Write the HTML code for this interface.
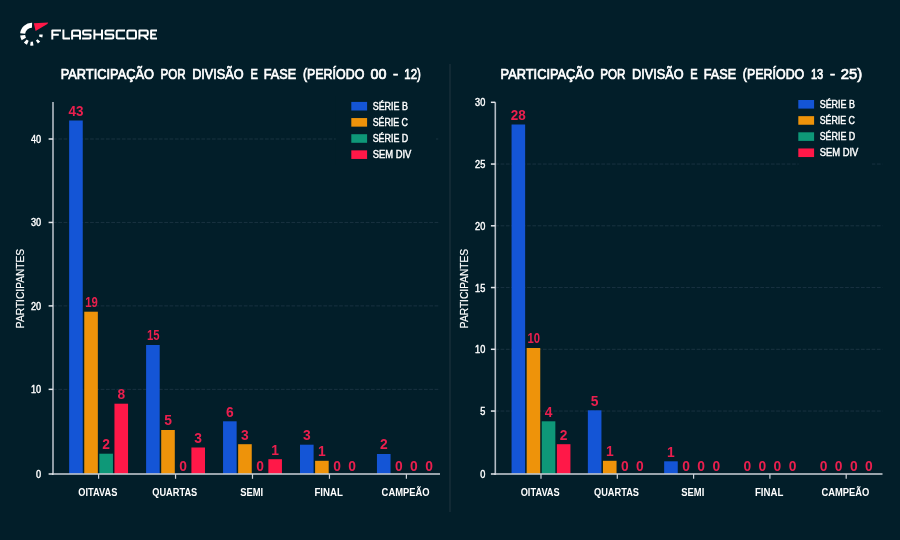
<!DOCTYPE html>
<html lang="pt"><head><meta charset="utf-8"><title>Participação por divisão e fase</title>
<style>html,body{margin:0;padding:0;background:#021e29;width:900px;height:540px;overflow:hidden}svg text{font-family:"Liberation Sans", sans-serif}</style>
</head><body>
<svg width="900" height="540" viewBox="0 0 900 540" style="display:block;will-change:transform">
<rect width="900" height="540" fill="#021e29"/>
<line x1="450" y1="64" x2="450" y2="512" stroke="#1d313d" stroke-width="1.2"/>
<line x1="53.0" y1="389.35" x2="440.0" y2="389.35" stroke="#193240" stroke-width="1" stroke-dasharray="3.7 1.6"/>
<line x1="53.0" y1="305.90" x2="440.0" y2="305.90" stroke="#193240" stroke-width="1" stroke-dasharray="3.7 1.6"/>
<line x1="53.0" y1="222.45" x2="440.0" y2="222.45" stroke="#193240" stroke-width="1" stroke-dasharray="3.7 1.6"/>
<line x1="53.0" y1="139.00" x2="440.0" y2="139.00" stroke="#193240" stroke-width="1" stroke-dasharray="3.7 1.6"/>
<rect x="69.15" y="120.50" width="13.6" height="353.30" fill="#1455d6"/>
<rect x="84.25" y="311.70" width="13.6" height="162.10" fill="#ee930a"/>
<rect x="99.35" y="453.70" width="13.6" height="20.10" fill="#0e9878"/>
<rect x="114.45" y="403.70" width="13.6" height="70.10" fill="#ff1848"/>
<rect x="146.10" y="345.00" width="13.6" height="128.80" fill="#1455d6"/>
<rect x="161.20" y="430.00" width="13.6" height="43.80" fill="#ee930a"/>
<rect x="191.40" y="447.50" width="13.6" height="26.30" fill="#ff1848"/>
<rect x="223.05" y="421.30" width="13.6" height="52.50" fill="#1455d6"/>
<rect x="238.15" y="444.20" width="13.6" height="29.60" fill="#ee930a"/>
<rect x="268.35" y="459.20" width="13.6" height="14.60" fill="#ff1848"/>
<rect x="300.00" y="444.70" width="13.6" height="29.10" fill="#1455d6"/>
<rect x="315.10" y="460.80" width="13.6" height="13.00" fill="#ee930a"/>
<rect x="376.95" y="454.00" width="13.6" height="19.80" fill="#1455d6"/>
<rect x="335.8" y="96" width="100.19999999999999" height="69" fill="#021e29"/>
<line x1="53.0" y1="102.0" x2="53.0" y2="474.90" stroke="#b4bcc5" stroke-width="1.6"/>
<line x1="52.2" y1="474.0" x2="440.0" y2="474.0" stroke="#cdd2d9" stroke-width="1.7"/>
<line x1="48.6" y1="474.00" x2="53.0" y2="474.00" stroke="#e4e7eb" stroke-width="1.5"/>
<text x="41.10" y="477.80" font-size="10.0" fill="#ffffff" font-weight="normal" text-anchor="end" textLength="5.10" lengthAdjust="spacingAndGlyphs" stroke="#ffffff" stroke-width="0.4">0</text>
<line x1="48.6" y1="389.35" x2="53.0" y2="389.35" stroke="#e4e7eb" stroke-width="1.5"/>
<text x="41.10" y="393.35" font-size="10.0" fill="#ffffff" font-weight="normal" text-anchor="end" textLength="10.20" lengthAdjust="spacingAndGlyphs" stroke="#ffffff" stroke-width="0.4">10</text>
<line x1="48.6" y1="305.90" x2="53.0" y2="305.90" stroke="#e4e7eb" stroke-width="1.5"/>
<text x="41.10" y="309.90" font-size="10.0" fill="#ffffff" font-weight="normal" text-anchor="end" textLength="10.20" lengthAdjust="spacingAndGlyphs" stroke="#ffffff" stroke-width="0.4">20</text>
<line x1="48.6" y1="222.45" x2="53.0" y2="222.45" stroke="#e4e7eb" stroke-width="1.5"/>
<text x="41.10" y="226.45" font-size="10.0" fill="#ffffff" font-weight="normal" text-anchor="end" textLength="10.20" lengthAdjust="spacingAndGlyphs" stroke="#ffffff" stroke-width="0.4">30</text>
<line x1="48.6" y1="139.00" x2="53.0" y2="139.00" stroke="#e4e7eb" stroke-width="1.5"/>
<text x="41.10" y="143.00" font-size="10.0" fill="#ffffff" font-weight="normal" text-anchor="end" textLength="10.20" lengthAdjust="spacingAndGlyphs" stroke="#ffffff" stroke-width="0.4">40</text>
<line x1="98.60" y1="474.0" x2="98.60" y2="478.8" stroke="#cdd2d9" stroke-width="1.2"/>
<text x="78.30" y="495.90" font-size="10.5" fill="#ffffff" font-weight="bold" text-anchor="start" textLength="39.00" lengthAdjust="spacingAndGlyphs" >OITAVAS</text>
<line x1="175.55" y1="474.0" x2="175.55" y2="478.8" stroke="#cdd2d9" stroke-width="1.2"/>
<text x="152.25" y="495.90" font-size="10.5" fill="#ffffff" font-weight="bold" text-anchor="start" textLength="45.00" lengthAdjust="spacingAndGlyphs" >QUARTAS</text>
<line x1="252.50" y1="474.0" x2="252.50" y2="478.8" stroke="#cdd2d9" stroke-width="1.2"/>
<text x="240.20" y="495.90" font-size="10.5" fill="#ffffff" font-weight="bold" text-anchor="start" textLength="23.00" lengthAdjust="spacingAndGlyphs" >SEMI</text>
<line x1="329.45" y1="474.0" x2="329.45" y2="478.8" stroke="#cdd2d9" stroke-width="1.2"/>
<text x="314.45" y="495.90" font-size="10.5" fill="#ffffff" font-weight="bold" text-anchor="start" textLength="28.40" lengthAdjust="spacingAndGlyphs" >FINAL</text>
<line x1="406.40" y1="474.0" x2="406.40" y2="478.8" stroke="#cdd2d9" stroke-width="1.2"/>
<text x="381.60" y="495.90" font-size="10.5" fill="#ffffff" font-weight="bold" text-anchor="start" textLength="48.00" lengthAdjust="spacingAndGlyphs" >CAMPEÃO</text>
<text x="68.45" y="115.90" font-size="13.8" fill="#ea1f4e" font-weight="bold" text-anchor="start" textLength="15.00" lengthAdjust="spacingAndGlyphs" >43</text>
<text x="85.15" y="307.10" font-size="13.8" fill="#ea1f4e" font-weight="bold" text-anchor="start" textLength="12.60" lengthAdjust="spacingAndGlyphs" >19</text>
<text x="102.30" y="449.10" font-size="13.8" fill="#ea1f4e" font-weight="bold" text-anchor="start" textLength="7.70" lengthAdjust="spacingAndGlyphs" >2</text>
<text x="117.40" y="399.10" font-size="13.8" fill="#ea1f4e" font-weight="bold" text-anchor="start" textLength="7.70" lengthAdjust="spacingAndGlyphs" >8</text>
<text x="147.00" y="340.40" font-size="13.8" fill="#ea1f4e" font-weight="bold" text-anchor="start" textLength="12.60" lengthAdjust="spacingAndGlyphs" >15</text>
<text x="164.15" y="425.40" font-size="13.8" fill="#ea1f4e" font-weight="bold" text-anchor="start" textLength="7.70" lengthAdjust="spacingAndGlyphs" >5</text>
<text x="179.25" y="471.30" font-size="13.8" fill="#ea1f4e" font-weight="bold" text-anchor="start" textLength="7.70" lengthAdjust="spacingAndGlyphs" >0</text>
<text x="194.35" y="442.90" font-size="13.8" fill="#ea1f4e" font-weight="bold" text-anchor="start" textLength="7.70" lengthAdjust="spacingAndGlyphs" >3</text>
<text x="226.00" y="416.70" font-size="13.8" fill="#ea1f4e" font-weight="bold" text-anchor="start" textLength="7.70" lengthAdjust="spacingAndGlyphs" >6</text>
<text x="241.10" y="439.60" font-size="13.8" fill="#ea1f4e" font-weight="bold" text-anchor="start" textLength="7.70" lengthAdjust="spacingAndGlyphs" >3</text>
<text x="256.20" y="471.30" font-size="13.8" fill="#ea1f4e" font-weight="bold" text-anchor="start" textLength="7.70" lengthAdjust="spacingAndGlyphs" >0</text>
<text x="271.30" y="454.60" font-size="13.8" fill="#ea1f4e" font-weight="bold" text-anchor="start" textLength="7.70" lengthAdjust="spacingAndGlyphs" >1</text>
<text x="302.95" y="440.10" font-size="13.8" fill="#ea1f4e" font-weight="bold" text-anchor="start" textLength="7.70" lengthAdjust="spacingAndGlyphs" >3</text>
<text x="318.05" y="456.20" font-size="13.8" fill="#ea1f4e" font-weight="bold" text-anchor="start" textLength="7.70" lengthAdjust="spacingAndGlyphs" >1</text>
<text x="333.15" y="471.30" font-size="13.8" fill="#ea1f4e" font-weight="bold" text-anchor="start" textLength="7.70" lengthAdjust="spacingAndGlyphs" >0</text>
<text x="348.25" y="471.30" font-size="13.8" fill="#ea1f4e" font-weight="bold" text-anchor="start" textLength="7.70" lengthAdjust="spacingAndGlyphs" >0</text>
<text x="379.90" y="449.40" font-size="13.8" fill="#ea1f4e" font-weight="bold" text-anchor="start" textLength="7.70" lengthAdjust="spacingAndGlyphs" >2</text>
<text x="395.00" y="471.30" font-size="13.8" fill="#ea1f4e" font-weight="bold" text-anchor="start" textLength="7.70" lengthAdjust="spacingAndGlyphs" >0</text>
<text x="410.10" y="471.30" font-size="13.8" fill="#ea1f4e" font-weight="bold" text-anchor="start" textLength="7.70" lengthAdjust="spacingAndGlyphs" >0</text>
<text x="425.20" y="471.30" font-size="13.8" fill="#ea1f4e" font-weight="bold" text-anchor="start" textLength="7.70" lengthAdjust="spacingAndGlyphs" >0</text>
<text x="60.70" y="79.10" font-size="14.3" fill="#ffffff" font-weight="normal" text-anchor="start" textLength="93.30" lengthAdjust="spacingAndGlyphs" stroke="#ffffff" stroke-width="0.7">PARTICIPAÇÃO</text>
<text x="160.40" y="79.10" font-size="14.3" fill="#ffffff" font-weight="normal" text-anchor="start" textLength="25.20" lengthAdjust="spacingAndGlyphs" stroke="#ffffff" stroke-width="0.7">POR</text>
<text x="192.20" y="79.10" font-size="14.3" fill="#ffffff" font-weight="normal" text-anchor="start" textLength="51.40" lengthAdjust="spacingAndGlyphs" stroke="#ffffff" stroke-width="0.7">DIVISÃO</text>
<text x="250.40" y="79.10" font-size="14.3" fill="#ffffff" font-weight="normal" text-anchor="start" textLength="7.40" lengthAdjust="spacingAndGlyphs" stroke="#ffffff" stroke-width="0.7">E</text>
<text x="263.80" y="79.10" font-size="14.3" fill="#ffffff" font-weight="normal" text-anchor="start" textLength="32.40" lengthAdjust="spacingAndGlyphs" stroke="#ffffff" stroke-width="0.7">FASE</text>
<text x="302.90" y="79.10" font-size="14.3" fill="#ffffff" font-weight="normal" text-anchor="start" textLength="61.50" lengthAdjust="spacingAndGlyphs" stroke="#ffffff" stroke-width="0.7">(PERÍODO</text>
<text x="370.50" y="79.10" font-size="14.3" fill="#ffffff" font-weight="normal" text-anchor="start" textLength="15.90" lengthAdjust="spacingAndGlyphs" stroke="#ffffff" stroke-width="0.7">00</text>
<text x="393.00" y="79.10" font-size="14.3" fill="#ffffff" font-weight="normal" text-anchor="start" textLength="5.20" lengthAdjust="spacingAndGlyphs" stroke="#ffffff" stroke-width="0.7">-</text>
<text x="404.30" y="79.10" font-size="14.3" fill="#ffffff" font-weight="normal" text-anchor="start" textLength="16.60" lengthAdjust="spacingAndGlyphs" stroke="#ffffff" stroke-width="0.7">12)</text>
<rect x="351.30" y="101.90" width="15.8" height="8.6" fill="#1455d6"/>
<text x="372.70" y="109.90" font-size="10.2" fill="#ffffff" font-weight="normal" text-anchor="start" textLength="35.30" lengthAdjust="spacingAndGlyphs" stroke="#ffffff" stroke-width="0.42">SÉRIE B</text>
<rect x="351.30" y="118.05" width="15.8" height="8.6" fill="#ee930a"/>
<text x="372.70" y="126.05" font-size="10.2" fill="#ffffff" font-weight="normal" text-anchor="start" textLength="35.30" lengthAdjust="spacingAndGlyphs" stroke="#ffffff" stroke-width="0.42">SÉRIE C</text>
<rect x="351.30" y="134.20" width="15.8" height="8.6" fill="#0e9878"/>
<text x="372.70" y="142.20" font-size="10.2" fill="#ffffff" font-weight="normal" text-anchor="start" textLength="35.60" lengthAdjust="spacingAndGlyphs" stroke="#ffffff" stroke-width="0.42">SÉRIE D</text>
<rect x="351.30" y="150.35" width="15.8" height="8.6" fill="#ff1848"/>
<text x="372.70" y="158.35" font-size="10.2" fill="#ffffff" font-weight="normal" text-anchor="start" textLength="38.60" lengthAdjust="spacingAndGlyphs" stroke="#ffffff" stroke-width="0.42">SEM DIV</text>
<text transform="translate(24.0,288.5) rotate(-90)" font-size="11" fill="#ffffff" text-anchor="middle" textLength="79.3" lengthAdjust="spacingAndGlyphs" stroke="#ffffff" stroke-width="0.2">PARTICIPANTES</text>
<line x1="495.3" y1="411.05" x2="882.5" y2="411.05" stroke="#193240" stroke-width="1" stroke-dasharray="3.7 1.6"/>
<line x1="495.3" y1="349.30" x2="882.5" y2="349.30" stroke="#193240" stroke-width="1" stroke-dasharray="3.7 1.6"/>
<line x1="495.3" y1="287.55" x2="882.5" y2="287.55" stroke="#193240" stroke-width="1" stroke-dasharray="3.7 1.6"/>
<line x1="495.3" y1="225.80" x2="882.5" y2="225.80" stroke="#193240" stroke-width="1" stroke-dasharray="3.7 1.6"/>
<line x1="495.3" y1="164.05" x2="882.5" y2="164.05" stroke="#193240" stroke-width="1" stroke-dasharray="3.7 1.6"/>
<rect x="511.55" y="124.50" width="13.6" height="349.30" fill="#1455d6"/>
<rect x="526.65" y="348.00" width="13.6" height="125.80" fill="#ee930a"/>
<rect x="541.75" y="421.30" width="13.6" height="52.50" fill="#0e9878"/>
<rect x="556.85" y="444.20" width="13.6" height="29.60" fill="#ff1848"/>
<rect x="587.85" y="410.30" width="13.6" height="63.50" fill="#1455d6"/>
<rect x="602.95" y="460.80" width="13.6" height="13.00" fill="#ee930a"/>
<rect x="664.15" y="461.30" width="13.6" height="12.50" fill="#1455d6"/>
<rect x="798.7" y="160" width="73.29999999999995" height="7" fill="#021e29"/>
<line x1="495.3" y1="102.3" x2="495.3" y2="474.90" stroke="#b4bcc5" stroke-width="1.6"/>
<line x1="494.5" y1="474.0" x2="882.5" y2="474.0" stroke="#cdd2d9" stroke-width="1.7"/>
<line x1="490.90000000000003" y1="474.00" x2="495.3" y2="474.00" stroke="#e4e7eb" stroke-width="1.5"/>
<text x="485.30" y="477.80" font-size="10.0" fill="#ffffff" font-weight="normal" text-anchor="end" textLength="5.10" lengthAdjust="spacingAndGlyphs" stroke="#ffffff" stroke-width="0.4">0</text>
<line x1="490.90000000000003" y1="411.05" x2="495.3" y2="411.05" stroke="#e4e7eb" stroke-width="1.5"/>
<text x="485.30" y="415.05" font-size="10.0" fill="#ffffff" font-weight="normal" text-anchor="end" textLength="5.10" lengthAdjust="spacingAndGlyphs" stroke="#ffffff" stroke-width="0.4">5</text>
<line x1="490.90000000000003" y1="349.30" x2="495.3" y2="349.30" stroke="#e4e7eb" stroke-width="1.5"/>
<text x="485.30" y="353.30" font-size="10.0" fill="#ffffff" font-weight="normal" text-anchor="end" textLength="10.20" lengthAdjust="spacingAndGlyphs" stroke="#ffffff" stroke-width="0.4">10</text>
<line x1="490.90000000000003" y1="287.55" x2="495.3" y2="287.55" stroke="#e4e7eb" stroke-width="1.5"/>
<text x="485.30" y="291.55" font-size="10.0" fill="#ffffff" font-weight="normal" text-anchor="end" textLength="10.20" lengthAdjust="spacingAndGlyphs" stroke="#ffffff" stroke-width="0.4">15</text>
<line x1="490.90000000000003" y1="225.80" x2="495.3" y2="225.80" stroke="#e4e7eb" stroke-width="1.5"/>
<text x="485.30" y="229.80" font-size="10.0" fill="#ffffff" font-weight="normal" text-anchor="end" textLength="10.20" lengthAdjust="spacingAndGlyphs" stroke="#ffffff" stroke-width="0.4">20</text>
<line x1="490.90000000000003" y1="164.05" x2="495.3" y2="164.05" stroke="#e4e7eb" stroke-width="1.5"/>
<text x="485.30" y="168.05" font-size="10.0" fill="#ffffff" font-weight="normal" text-anchor="end" textLength="10.20" lengthAdjust="spacingAndGlyphs" stroke="#ffffff" stroke-width="0.4">25</text>
<line x1="490.90000000000003" y1="102.30" x2="495.3" y2="102.30" stroke="#e4e7eb" stroke-width="1.5"/>
<text x="485.30" y="106.30" font-size="10.0" fill="#ffffff" font-weight="normal" text-anchor="end" textLength="10.20" lengthAdjust="spacingAndGlyphs" stroke="#ffffff" stroke-width="0.4">30</text>
<line x1="541.00" y1="474.0" x2="541.00" y2="478.8" stroke="#cdd2d9" stroke-width="1.2"/>
<text x="520.70" y="495.90" font-size="10.5" fill="#ffffff" font-weight="bold" text-anchor="start" textLength="39.00" lengthAdjust="spacingAndGlyphs" >OITAVAS</text>
<line x1="617.30" y1="474.0" x2="617.30" y2="478.8" stroke="#cdd2d9" stroke-width="1.2"/>
<text x="594.00" y="495.90" font-size="10.5" fill="#ffffff" font-weight="bold" text-anchor="start" textLength="45.00" lengthAdjust="spacingAndGlyphs" >QUARTAS</text>
<line x1="693.60" y1="474.0" x2="693.60" y2="478.8" stroke="#cdd2d9" stroke-width="1.2"/>
<text x="681.30" y="495.90" font-size="10.5" fill="#ffffff" font-weight="bold" text-anchor="start" textLength="23.00" lengthAdjust="spacingAndGlyphs" >SEMI</text>
<line x1="769.90" y1="474.0" x2="769.90" y2="478.8" stroke="#cdd2d9" stroke-width="1.2"/>
<text x="754.90" y="495.90" font-size="10.5" fill="#ffffff" font-weight="bold" text-anchor="start" textLength="28.40" lengthAdjust="spacingAndGlyphs" >FINAL</text>
<line x1="846.20" y1="474.0" x2="846.20" y2="478.8" stroke="#cdd2d9" stroke-width="1.2"/>
<text x="821.40" y="495.90" font-size="10.5" fill="#ffffff" font-weight="bold" text-anchor="start" textLength="48.00" lengthAdjust="spacingAndGlyphs" >CAMPEÃO</text>
<text x="510.85" y="119.90" font-size="13.8" fill="#ea1f4e" font-weight="bold" text-anchor="start" textLength="15.00" lengthAdjust="spacingAndGlyphs" >28</text>
<text x="527.55" y="343.40" font-size="13.8" fill="#ea1f4e" font-weight="bold" text-anchor="start" textLength="12.60" lengthAdjust="spacingAndGlyphs" >10</text>
<text x="544.70" y="416.70" font-size="13.8" fill="#ea1f4e" font-weight="bold" text-anchor="start" textLength="7.70" lengthAdjust="spacingAndGlyphs" >4</text>
<text x="559.80" y="439.60" font-size="13.8" fill="#ea1f4e" font-weight="bold" text-anchor="start" textLength="7.70" lengthAdjust="spacingAndGlyphs" >2</text>
<text x="590.80" y="405.70" font-size="13.8" fill="#ea1f4e" font-weight="bold" text-anchor="start" textLength="7.70" lengthAdjust="spacingAndGlyphs" >5</text>
<text x="605.90" y="456.20" font-size="13.8" fill="#ea1f4e" font-weight="bold" text-anchor="start" textLength="7.70" lengthAdjust="spacingAndGlyphs" >1</text>
<text x="621.00" y="471.30" font-size="13.8" fill="#ea1f4e" font-weight="bold" text-anchor="start" textLength="7.70" lengthAdjust="spacingAndGlyphs" >0</text>
<text x="636.10" y="471.30" font-size="13.8" fill="#ea1f4e" font-weight="bold" text-anchor="start" textLength="7.70" lengthAdjust="spacingAndGlyphs" >0</text>
<text x="667.10" y="456.70" font-size="13.8" fill="#ea1f4e" font-weight="bold" text-anchor="start" textLength="7.70" lengthAdjust="spacingAndGlyphs" >1</text>
<text x="682.20" y="471.30" font-size="13.8" fill="#ea1f4e" font-weight="bold" text-anchor="start" textLength="7.70" lengthAdjust="spacingAndGlyphs" >0</text>
<text x="697.30" y="471.30" font-size="13.8" fill="#ea1f4e" font-weight="bold" text-anchor="start" textLength="7.70" lengthAdjust="spacingAndGlyphs" >0</text>
<text x="712.40" y="471.30" font-size="13.8" fill="#ea1f4e" font-weight="bold" text-anchor="start" textLength="7.70" lengthAdjust="spacingAndGlyphs" >0</text>
<text x="743.40" y="471.30" font-size="13.8" fill="#ea1f4e" font-weight="bold" text-anchor="start" textLength="7.70" lengthAdjust="spacingAndGlyphs" >0</text>
<text x="758.50" y="471.30" font-size="13.8" fill="#ea1f4e" font-weight="bold" text-anchor="start" textLength="7.70" lengthAdjust="spacingAndGlyphs" >0</text>
<text x="773.60" y="471.30" font-size="13.8" fill="#ea1f4e" font-weight="bold" text-anchor="start" textLength="7.70" lengthAdjust="spacingAndGlyphs" >0</text>
<text x="788.70" y="471.30" font-size="13.8" fill="#ea1f4e" font-weight="bold" text-anchor="start" textLength="7.70" lengthAdjust="spacingAndGlyphs" >0</text>
<text x="819.70" y="471.30" font-size="13.8" fill="#ea1f4e" font-weight="bold" text-anchor="start" textLength="7.70" lengthAdjust="spacingAndGlyphs" >0</text>
<text x="834.80" y="471.30" font-size="13.8" fill="#ea1f4e" font-weight="bold" text-anchor="start" textLength="7.70" lengthAdjust="spacingAndGlyphs" >0</text>
<text x="849.90" y="471.30" font-size="13.8" fill="#ea1f4e" font-weight="bold" text-anchor="start" textLength="7.70" lengthAdjust="spacingAndGlyphs" >0</text>
<text x="865.00" y="471.30" font-size="13.8" fill="#ea1f4e" font-weight="bold" text-anchor="start" textLength="7.70" lengthAdjust="spacingAndGlyphs" >0</text>
<text x="500.60" y="79.10" font-size="14.3" fill="#ffffff" font-weight="normal" text-anchor="start" textLength="93.30" lengthAdjust="spacingAndGlyphs" stroke="#ffffff" stroke-width="0.7">PARTICIPAÇÃO</text>
<text x="600.30" y="79.10" font-size="14.3" fill="#ffffff" font-weight="normal" text-anchor="start" textLength="25.20" lengthAdjust="spacingAndGlyphs" stroke="#ffffff" stroke-width="0.7">POR</text>
<text x="632.10" y="79.10" font-size="14.3" fill="#ffffff" font-weight="normal" text-anchor="start" textLength="51.40" lengthAdjust="spacingAndGlyphs" stroke="#ffffff" stroke-width="0.7">DIVISÃO</text>
<text x="690.30" y="79.10" font-size="14.3" fill="#ffffff" font-weight="normal" text-anchor="start" textLength="7.40" lengthAdjust="spacingAndGlyphs" stroke="#ffffff" stroke-width="0.7">E</text>
<text x="703.70" y="79.10" font-size="14.3" fill="#ffffff" font-weight="normal" text-anchor="start" textLength="32.40" lengthAdjust="spacingAndGlyphs" stroke="#ffffff" stroke-width="0.7">FASE</text>
<text x="742.80" y="79.10" font-size="14.3" fill="#ffffff" font-weight="normal" text-anchor="start" textLength="61.50" lengthAdjust="spacingAndGlyphs" stroke="#ffffff" stroke-width="0.7">(PERÍODO</text>
<text x="810.90" y="79.10" font-size="14.3" fill="#ffffff" font-weight="normal" text-anchor="start" textLength="12.40" lengthAdjust="spacingAndGlyphs" stroke="#ffffff" stroke-width="0.7">13</text>
<text x="829.90" y="79.10" font-size="14.3" fill="#ffffff" font-weight="normal" text-anchor="start" textLength="5.10" lengthAdjust="spacingAndGlyphs" stroke="#ffffff" stroke-width="0.7">-</text>
<text x="840.80" y="79.10" font-size="14.3" fill="#ffffff" font-weight="normal" text-anchor="start" textLength="21.40" lengthAdjust="spacingAndGlyphs" stroke="#ffffff" stroke-width="0.7">25)</text>
<rect x="798.30" y="100.00" width="15.8" height="8.6" fill="#1455d6"/>
<text x="819.70" y="108.00" font-size="10.2" fill="#ffffff" font-weight="normal" text-anchor="start" textLength="35.30" lengthAdjust="spacingAndGlyphs" stroke="#ffffff" stroke-width="0.42">SÉRIE B</text>
<rect x="798.30" y="116.15" width="15.8" height="8.6" fill="#ee930a"/>
<text x="819.70" y="124.15" font-size="10.2" fill="#ffffff" font-weight="normal" text-anchor="start" textLength="35.30" lengthAdjust="spacingAndGlyphs" stroke="#ffffff" stroke-width="0.42">SÉRIE C</text>
<rect x="798.30" y="132.30" width="15.8" height="8.6" fill="#0e9878"/>
<text x="819.70" y="140.30" font-size="10.2" fill="#ffffff" font-weight="normal" text-anchor="start" textLength="35.60" lengthAdjust="spacingAndGlyphs" stroke="#ffffff" stroke-width="0.42">SÉRIE D</text>
<rect x="798.30" y="148.45" width="15.8" height="8.6" fill="#ff1848"/>
<text x="819.70" y="156.45" font-size="10.2" fill="#ffffff" font-weight="normal" text-anchor="start" textLength="38.60" lengthAdjust="spacingAndGlyphs" stroke="#ffffff" stroke-width="0.42">SEM DIV</text>
<text transform="translate(468.1,288.5) rotate(-90)" font-size="11" fill="#ffffff" text-anchor="middle" textLength="79.3" lengthAdjust="spacingAndGlyphs" stroke="#ffffff" stroke-width="0.2">PARTICIPANTES</text>
<g id="logo">
<path d="M22.65 33.45 A9.1 9.1 0 0 1 32.02 25.31" fill="none" stroke="#ffffff" stroke-width="5.0"/>
<path d="M23.82 38.95 A9.1 9.1 0 0 1 22.65 35.35" fill="none" stroke="#ffffff" stroke-width="5.0"/>
<path d="M27.81 42.74 A9.2 9.2 0 0 1 25.31 41.02" fill="none" stroke="#ffffff" stroke-width="4.2"/>
<path d="M33.15 43.59 A9.3 9.3 0 0 1 30.41 43.61" fill="none" stroke="#ffffff" stroke-width="4.0"/>
<path d="M38.82 40.38 A9.3 9.3 0 0 1 36.90 42.11" fill="none" stroke="#ffffff" stroke-width="3.6"/>
<path d="M41.00 34.56 A9.3 9.3 0 0 1 40.64 36.96" fill="none" stroke="#ffffff" stroke-width="3.4"/>
<path d="M33.8 23.2 L48.2 22.4 L47.4 23.9 L35.6 31.1 Z" fill="#ff1848"/>
<path d="M52.3 39.55 V30.45 H61.0 M52.3 34.8 H58.8" fill="none" stroke="#ffffff" stroke-width="2.0" stroke-linejoin="round" stroke-linecap="butt"/>
<path d="M63.4 29.45 V38.55 H70.0" fill="none" stroke="#ffffff" stroke-width="2.0" stroke-linejoin="round" stroke-linecap="butt"/>
<path d="M72.1 39.55 V31.65 Q72.1 30.45 73.3 30.45 H78.8 Q80.0 30.45 80.0 31.65 V39.55 M72.1 35.7 H80.0" fill="none" stroke="#ffffff" stroke-width="2.0" stroke-linejoin="round" stroke-linecap="butt"/>
<path d="M91.6 30.45 H84.3 Q83.1 30.45 83.1 31.65 V33.3 Q83.1 34.5 84.3 34.5 H89.39999999999999 Q90.6 34.5 90.6 35.7 V37.349999999999994 Q90.6 38.55 89.39999999999999 38.55 H82.1" fill="none" stroke="#ffffff" stroke-width="2.0" stroke-linejoin="round" stroke-linecap="butt"/>
<path d="M94.4 29.45 V39.55 M102.0 29.45 V39.55 M94.4 34.5 H102.0" fill="none" stroke="#ffffff" stroke-width="2.0" stroke-linejoin="round" stroke-linecap="butt"/>
<path d="M114.3 30.45 H106.7 Q105.5 30.45 105.5 31.65 V33.3 Q105.5 34.5 106.7 34.5 H112.1 Q113.3 34.5 113.3 35.7 V37.349999999999994 Q113.3 38.55 112.1 38.55 H104.5" fill="none" stroke="#ffffff" stroke-width="2.0" stroke-linejoin="round" stroke-linecap="butt"/>
<path d="M125.0 30.45 H117.9 Q116.7 30.45 116.7 31.65 V37.349999999999994 Q116.7 38.55 117.9 38.55 H125.0" fill="none" stroke="#ffffff" stroke-width="2.0" stroke-linejoin="round" stroke-linecap="butt"/>
<path d="M128.6 30.45 H134.8 Q136.0 30.45 136.0 31.65 V37.349999999999994 Q136.0 38.55 134.8 38.55 H128.6 Q127.4 38.55 127.4 37.349999999999994 V31.65 Q127.4 30.45 128.6 30.45 Z" fill="none" stroke="#ffffff" stroke-width="2.0" stroke-linejoin="round" stroke-linecap="butt"/>
<path d="M139.4 39.55 V30.45 H146.60000000000002 Q147.8 30.45 147.8 31.65 V34.3 Q147.8 35.5 146.60000000000002 35.5 H139.4 M143.6 35.5 L148.0 39.55" fill="none" stroke="#ffffff" stroke-width="2.0" stroke-linejoin="round" stroke-linecap="butt"/>
<path d="M157.0 30.45 H151.1 V38.55 H157.0 M151.1 34.5 H155.8" fill="none" stroke="#ffffff" stroke-width="2.0" stroke-linejoin="round" stroke-linecap="butt"/>
</g>
</svg>
</body></html>
